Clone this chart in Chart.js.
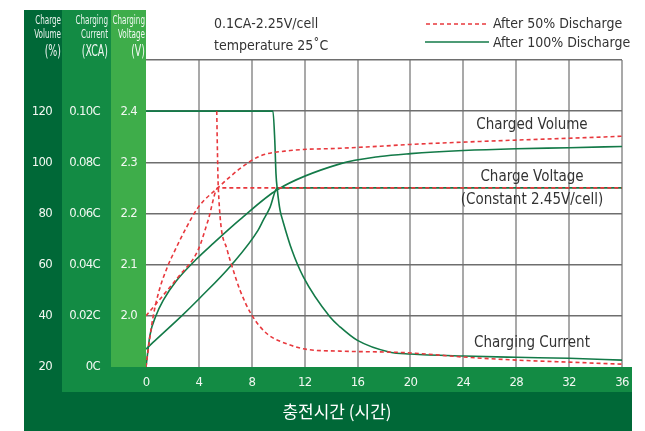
<!DOCTYPE html>
<html>
<head>
<meta charset="utf-8">
<script src="https://cdn.jsdelivr.net/npm/chart.js@4.4.1/dist/chart.umd.min.js"></script>
<style>
  html, body { margin: 0; padding: 0; background: #fff; }
  canvas { display: block; }
</style>
</head>
<body>
<canvas id="chart-charge" width="645" height="431"></canvas>
<script>
// ---- data (hours / value) ----
// After 50% discharge (red dashed)
const redVolHours    = [0, 0.25, 0.55, 1, 1.69, 2.19, 3, 3.96, 5.47, 7.1, 8.6, 10.9, 14.7, 17.7, 20, 24, 28, 32, 36];
const redVolValues   = [20, 30, 40, 50, 60, 65.6, 74, 82.5, 90.2, 97.5, 102.4, 104.6, 105.5, 106.3, 107, 107.9, 108.7, 109.4, 110.2];
const redVoltHours   = [0, 1.2, 2.5, 3.93, 4.7, 5.45, 36];
const redVoltValues  = [2.0, 2.037, 2.078, 2.128, 2.187, 2.25, 2.25];
const redCurHours    = [5.35, 5.4, 5.47, 6.15, 6.48, 7.11, 8.0, 9.13, 10.9, 12.16, 14.67, 18.46, 20, 24, 28, 32, 36];
const redCurValues   = [0.1, 0.085, 0.0697, 0.0456, 0.0398, 0.030, 0.0203, 0.0131, 0.0086, 0.0069, 0.0062, 0.0058, 0.0055, 0.0039, 0.0027, 0.0019, 0.0011];

// After 100% discharge (green solid)
const greenVolHours   = [0, 0.3, 0.76, 1.3, 2.27, 3.9, 5.0, 7.1, 9.93, 14.67, 17.7, 20, 24, 28, 32, 36];
const greenVolValues  = [20, 32.5, 40.1, 46, 53.5, 62.6, 67.9, 77.6, 89.3, 99.4, 102.3, 103.4, 104.6, 105.3, 105.7, 106.2];
const greenVoltHours  = [0, 0.53, 2.7, 4, 6.48, 8.47, 8.87, 9.38, 9.93, 36];
const greenVoltValues = [1.935, 1.948, 2.0, 2.033, 2.1, 2.167, 2.187, 2.212, 2.25, 2.25];
const greenCurHours   = [0, 9.6, 9.74, 9.83, 9.93, 10.14, 10.34, 11.04, 11.9, 13.92, 14.67, 15.96, 18.46, 20, 24, 28, 32, 36];
const greenCurValues  = [0.1, 0.1, 0.0885, 0.0756, 0.0694, 0.0612, 0.0573, 0.0456, 0.0352, 0.0195, 0.0157, 0.0105, 0.0058, 0.0051, 0.0043, 0.0038, 0.0034, 0.0027];

// ---- axis ticks ----
const hourTicks      = [0, 4, 8, 12, 16, 20, 24, 28, 32, 36];
const volumeTicks    = [20, 40, 60, 80, 100, 120, 140];
const volumeLabels   = ['20', '40', '60', '80', '100', '120', ''];
const currentTicks   = [0, 0.02, 0.04, 0.06, 0.08, 0.10, 0.12];
const currentLabels  = ['0C', '0.02C', '0.04C', '0.06C', '0.08C', '0.10C', ''];
const voltageTicks   = [1.9, 2.0, 2.1, 2.2, 2.3, 2.4, 2.5];
const voltageLabels  = ['', '2.0', '2.1', '2.2', '2.3', '2.4', ''];

const RED = '#e8383d';
const GREEN = '#137a48';
const DARK = '#006837';
const MID = '#138b44';
const LIGHT = '#3ead4a';
const NARROW = "'Liberation Sans Narrow', 'DejaVu Sans Condensed', 'Roboto Condensed', sans-serif";

Chart.defaults.font.family = NARROW;

const pts = (xs, ys) => xs.map((x, i) => ({ x: x, y: ys[i] }));

function lineSet(label, xs, ys, axis, color, dashed) {
    return {
        label: label,
        data: pts(xs, ys),
        yAxisID: axis,
        borderColor: color,
        borderWidth: 1.6,
        borderDash: dashed ? [4, 3] : [],
        pointRadius: 0,
        fill: false,
        cubicInterpolationMode: 'monotone'
    };
}

function fixTicks(values) {
    return scale => { scale.ticks = values.map(v => ({ value: v })); };
}

// squeeze text sideways (no real condensed face installed)
function narrowText(c, text, x, y, sx) {
    c.save();
    c.translate(x, y);
    c.scale(sx, 1);
    c.fillText(text, 0, 0);
    c.restore();
}

// panels, bands and free text around the plot
const decor = {
    id: 'decor',
    beforeDraw(chart) {
        const c = chart.ctx;
        c.save();
        c.fillStyle = '#fff';
        c.fillRect(0, 0, chart.width, chart.height);
        c.fillStyle = DARK;  c.fillRect(24, 10, 38, 421);
        c.fillStyle = MID;   c.fillRect(62, 10, 49, 421);
        c.fillStyle = LIGHT; c.fillRect(111, 10, 35, 357);
        c.fillStyle = MID;   c.fillRect(62, 367, 570, 25);
        c.fillStyle = DARK;  c.fillRect(24, 392, 608, 39);
        c.restore();
        // tighter tick labels
        c.letterSpacing = '-0.7px';
    },
    afterDraw(chart) {
        const c = chart.ctx;
        c.letterSpacing = '0px';
        c.save();
        // column headers
        c.fillStyle = 'rgba(255,255,255,0.92)';
        c.textAlign = 'right';
        c.textBaseline = 'middle';
        const heads = [
            [61, ['Charge', 'Volume', '(%)']],
            [108, ['Charging', 'Current', '(XCA)']],
            [145, ['Charging', 'Voltage', '(V)']]
        ];
        heads.forEach(([x, lines]) => {
            c.font = '12.5px ' + NARROW;
            narrowText(c, lines[0], x, 21, 0.64);
            narrowText(c, lines[1], x, 35, 0.64);
            c.font = '15px ' + NARROW;
            narrowText(c, lines[2], x, 52, 0.7);
        });

        // conditions
        c.fillStyle = '#333';
        c.textAlign = 'left';
        c.font = '14px ' + NARROW;
        c.fillText('0.1CA-2.25V/cell', 214, 24);
        c.fillText('temperature 25\u02DAC', 214, 46);

        // legend
        c.lineWidth = 1.6;
        c.strokeStyle = RED;
        c.setLineDash([4, 3]);
        c.beginPath(); c.moveTo(426, 24); c.lineTo(486, 24); c.stroke();
        c.strokeStyle = GREEN;
        c.setLineDash([]);
        c.beginPath(); c.moveTo(425, 42); c.lineTo(489, 42); c.stroke();
        c.fillStyle = '#333';
        c.fillText('After 50% Discharge', 493, 24);
        c.fillText('After 100% Discharge', 493, 43);

        // curve notes
        c.textAlign = 'center';
        c.font = '15px ' + NARROW;
        c.fillText('Charged Volume', 532, 125);
        c.fillText('Charge Voltage', 532, 177);
        c.fillText('(Constant 2.45V/cell)', 532, 200);
        c.fillText('Charging Current', 532, 343);

        // x axis title
        c.fillStyle = '#fff';
        c.font = "17px 'Noto Sans CJK KR', sans-serif";
        c.fillText('충전시간 (시간)', 337, 412);
        c.restore();
    }
};

new Chart(document.getElementById('chart-charge'), {
    type: 'line',
    data: {
        datasets: [
            lineSet('Charged Volume 50%', redVolHours, redVolValues, 'yVol', RED, true),
            lineSet('Charge Voltage 50%', redVoltHours, redVoltValues, 'yVolt', RED, true),
            lineSet('Charging Current 50%', redCurHours, redCurValues, 'yCur', RED, true),
            lineSet('Charged Volume 100%', greenVolHours, greenVolValues, 'yVol', GREEN, false),
            lineSet('Charge Voltage 100%', greenVoltHours, greenVoltValues, 'yVolt', GREEN, false),
            lineSet('Charging Current 100%', greenCurHours, greenCurValues, 'yCur', GREEN, false)
        ]
    },
    options: {
        responsive: false,
        animation: false,
        devicePixelRatio: 1,
        layout: { padding: { left: 24, top: 60, right: 23, bottom: 0 } },
        plugins: {
            legend: { display: false },
            tooltip: { enabled: false }
        },
        scales: {
            x: {
                type: 'linear',
                min: 0,
                max: 36,
                afterBuildTicks: fixTicks(hourTicks),
                afterFit: s => { s.height = 64; },
                border: { display: false },
                grid: {
                    color: ctx => (ctx.tick && ctx.tick.value === 0) ? 'rgba(0,0,0,0)' : '#a9a9a9',
                    lineWidth: 2,
                    drawTicks: false
                },
                ticks: {
                    color: '#f2f8f2',
                    font: { size: 13 },
                    padding: 8,
                    maxRotation: 0,
                    callback: v => String(v)
                }
            },
            yVolt: {
                position: 'left',
                weight: 1,
                min: 1.9,
                max: 2.5,
                afterBuildTicks: fixTicks(voltageTicks),
                afterFit: s => { s.width = 35; },
                border: { display: false },
                grid: {
                    color: ctx => (ctx.tick && Math.abs(ctx.tick.value - 1.9) < 1e-6) ? 'rgba(0,0,0,0)' : '#6e6e6e',
                    lineWidth: 1.5,
                    drawTicks: false
                },
                ticks: {
                    color: '#f2f8f2',
                    font: { size: 13 },
                    padding: 9,
                    callback: (v, i) => voltageLabels[i]
                }
            },
            yCur: {
                position: 'left',
                weight: 2,
                min: 0,
                max: 0.12,
                afterBuildTicks: fixTicks(currentTicks),
                afterFit: s => { s.width = 49; },
                border: { display: false },
                grid: { display: false, drawTicks: false },
                ticks: {
                    color: '#f2f8f2',
                    font: { size: 13 },
                    padding: 11,
                    callback: (v, i) => currentLabels[i]
                }
            },
            yVol: {
                position: 'left',
                weight: 3,
                min: 20,
                max: 140,
                afterBuildTicks: fixTicks(volumeTicks),
                afterFit: s => { s.width = 38; },
                border: { display: false },
                grid: { display: false, drawTicks: false },
                ticks: {
                    color: '#f2f8f2',
                    font: { size: 13 },
                    padding: 10,
                    callback: (v, i) => volumeLabels[i]
                }
            }
        }
    },
    plugins: [decor]
});
</script>
</body>
</html>
